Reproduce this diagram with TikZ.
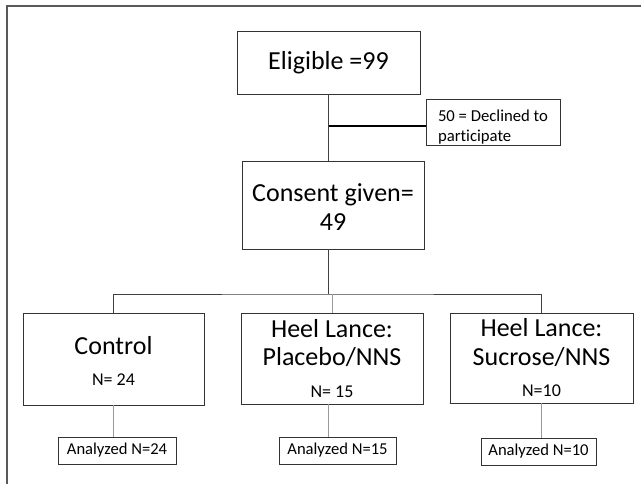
\documentclass[tikz,border=0pt]{standalone}
\usepackage{fontspec}
\setmainfont{Carlito}[Ligatures=CommonOff]
\usetikzlibrary{shadows}
\tikzset{
  box/.style={draw=black!80, line width=0.9pt, fill=white, inner sep=0pt, align=center,
    drop shadow={shadow xshift=1pt, shadow yshift=-1pt, opacity=0.3}},
  notebox/.style={box, align=left, minimum width=134pt, minimum height=46pt,
    font=\fontsize{16.7}{19.5}\selectfont},
  resultbox/.style={draw=black!80, line width=0.7pt, fill=white, inner sep=0pt,
    minimum height=27pt, font=\fontsize{16.6}{20}\selectfont},
  bigtext/.style={font=\fontsize{26}{28.5}\selectfont},
  link/.style={draw=black!75, line width=0.8pt},
  faintlink/.style={draw=black!40, line width=0.8pt}
}
\newcommand{\ncount}[1]{{\fontsize{18}{22}\selectfont #1}}
\begin{document}
\begin{tikzpicture}[x=1pt, y=-1pt]
    \useasboundingbox (0,0) rectangle (641,484);
    \draw[black!65, line width=1.2pt] (7,484) -- (7,6) -- (641,6);
    \node[box, bigtext, minimum width=183pt, minimum height=63pt] (elig) at (328.5,62.5) {Eligible =99};
    \node[notebox] (decl) at (493,122) {\rule{0pt}{22pt}50 = Declined to\\participate};
    \node[box, bigtext, minimum width=182pt, minimum height=88pt] (consent) at (333,205) {\rule{0pt}{22pt}Consent given=\\49};
    \node[box, bigtext, minimum width=181pt, minimum height=92pt] (ctrl) at (113.5,359) {\rule{0pt}{22pt}Control\\[3pt]\ncount{N= 24}};
    \node[box, bigtext, minimum width=182pt, minimum height=91pt] (plac) at (332,358.5) {Heel Lance:\\Placebo/NNS\\[3pt]\ncount{N= 15}};
    \node[box, bigtext, minimum width=183pt, minimum height=90pt] (sucr) at (541.5,358) {Heel Lance:\\Sucrose/NNS\\[3pt]\ncount{N=10}};
    \node[resultbox, minimum width=118pt] (anctrl) at (117,450.5) {Analyzed N=24};
    \node[resultbox, minimum width=117pt] (anplac) at (337.5,450.5) {Analyzed N=15};
    \node[resultbox, minimum width=115pt] (ansucr) at (538.5,451.5) {Analyzed N=10};
    \coordinate (fork) at (328,294);
    \coordinate (declin) at ([yshift=-4pt]decl.west);
    \draw[link] (elig.south) -- (elig.south |- consent.north);
    \draw[black, line width=2.4pt] (elig.south |- declin) -- (declin);
    \draw[link] (fork |- consent.south) -- (fork);
    \draw[link] (ctrl.north) |- (fork) -| (sucr.north);
    \draw[faintlink] (plac.north) -- (plac.north |- fork);
    \draw[faintlink] (ctrl.south) -- (ctrl.south |- anctrl.north);
    \draw[faintlink] (fork |- plac.south) -- (fork |- anplac.north);
    \draw[faintlink] (sucr.south) -- (sucr.south |- ansucr.north);
\end{tikzpicture}
\end{document}
